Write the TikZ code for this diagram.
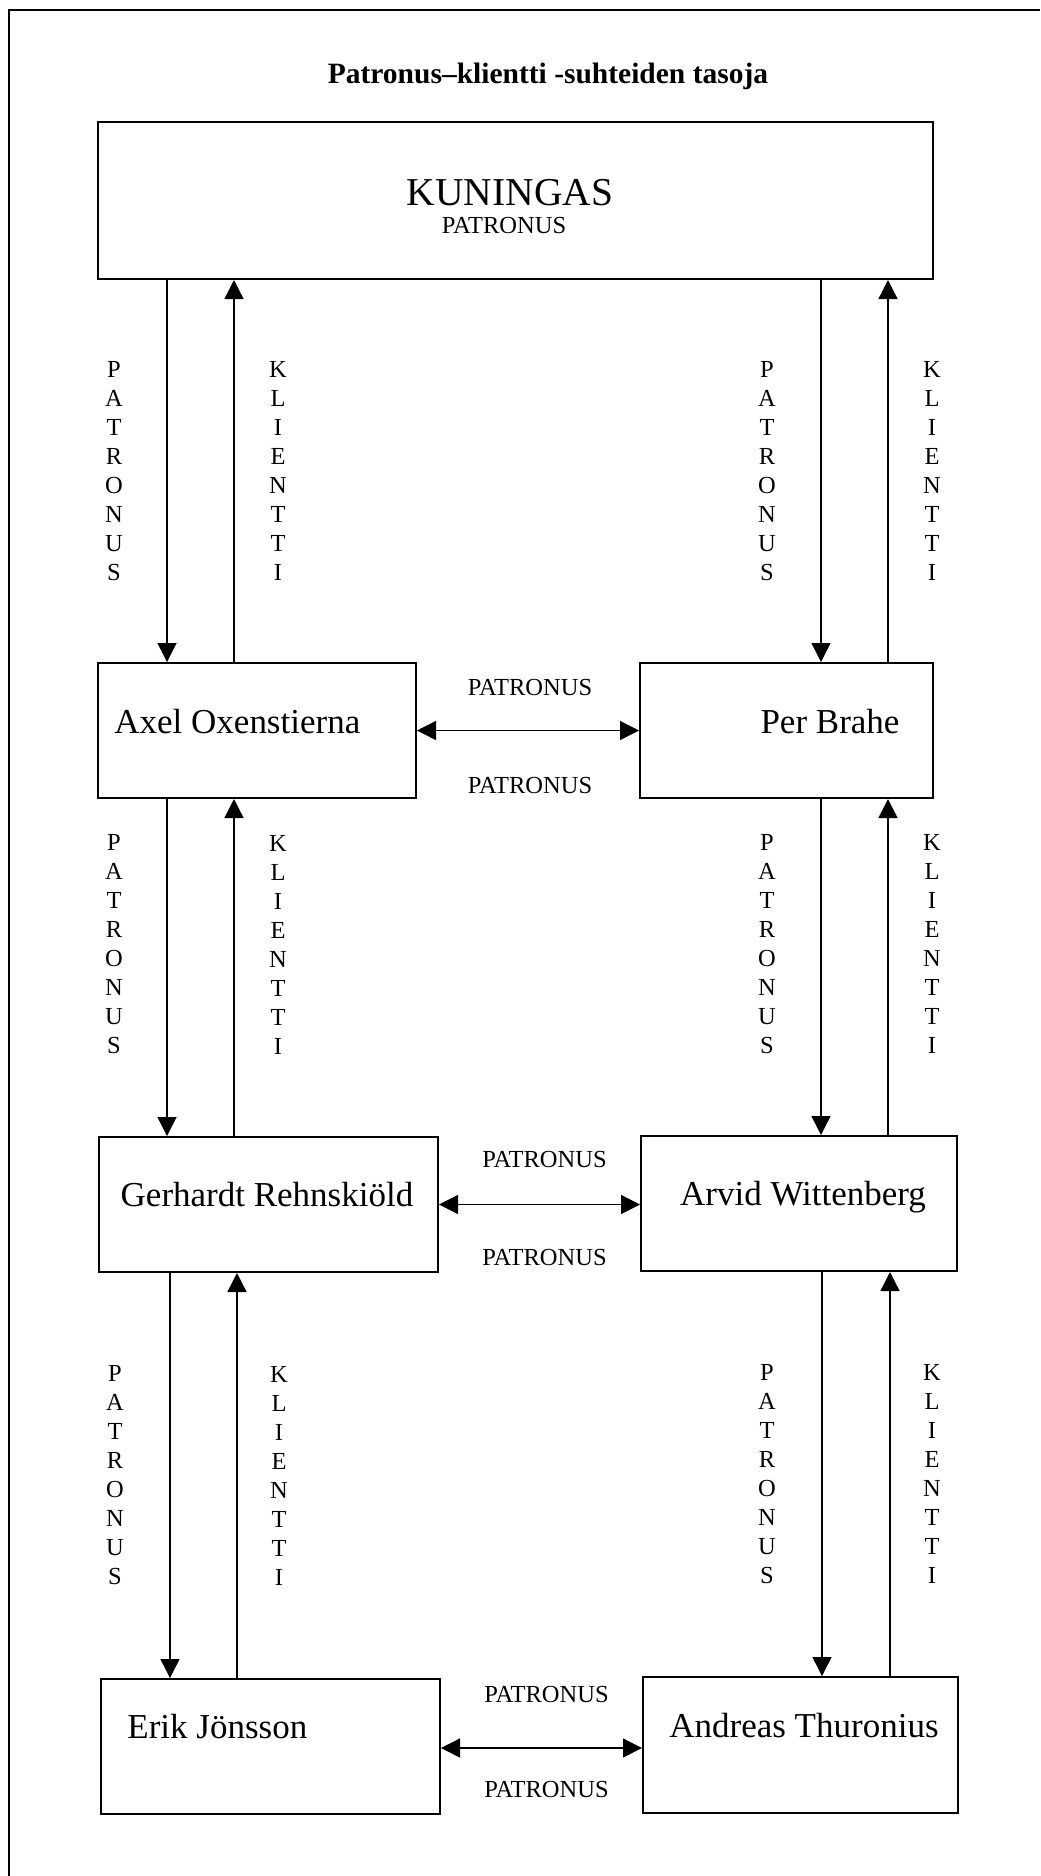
\documentclass[tikz,border=0pt]{standalone}
\usepackage{fontspec}
\setmainfont{Liberation Serif}
\usetikzlibrary{arrows.meta}
\tikzstyle{kingbox}=[rectangle,minimum width=417.5pt,minimum height=78.5pt,
inner sep=0pt,draw=black,line width=1pt]
\tikzstyle{personbox}=[rectangle,minimum height=67.5pt,
inner sep=0pt,draw=black,line width=1pt]
\tikzstyle{persontxt}=[inner sep=0pt,font=\fontsize{17.5}{21}\selectfont]
\tikzstyle{vlabel}=[align=center,inner sep=0pt,font=\fontsize{12.25}{14.5}\selectfont]
\tikzstyle{hlabel}=[inner sep=0pt,font=\fontsize{12.25}{14.5}\selectfont]
\tikzstyle{arrow}=[line width=0.7pt,-{Triangle[width=9.5pt,length=9.5pt]}]
\tikzstyle{dblarrow}=[line width=0.7pt,{Triangle[width=9.5pt,length=9.5pt]}-{Triangle[width=9.5pt,length=9.5pt]}]

\begin{document}
\begin{tikzpicture}[x=0.5pt,y=-0.5pt]
        \useasboundingbox (0,0) rectangle (1040,1876);
        \draw [line width=1pt] (9,1876) -- (9,10) -- (1040,10);

        \node (title) [anchor=base,font=\fontsize{14.75}{17}\selectfont\bfseries] at (548,83) {Patronus–klientti -suhteiden tasoja};

        \node (king) [kingbox] at (515.5,200.5) {};
        \node (kingname) [anchor=base,inner sep=0pt,font=\fontsize{19.75}{23}\selectfont] at (510,205) {KUNINGAS};
        \node (kingrole) [hlabel,anchor=base] at (504,233) {PATRONUS};

        \node (axel) [personbox,minimum width=159pt] at (257,730.5) {};
        \node (per) [personbox,minimum width=146.5pt] at (786.5,730.5) {};
        \node (gerh) [personbox,minimum width=169.5pt] at (268.5,1204.5) {};
        \node (arvid) [personbox,minimum width=158pt] at (799,1203.5) {};
        \node (erik) [personbox,minimum width=169.5pt] at (270.5,1746.5) {};
        \node (andreas) [personbox,minimum width=157.5pt,minimum height=68pt] at (800.5,1745) {};

        \node (axeltxt) [persontxt,anchor=base west] at (114,733) {Axel Oxenstierna};
        \node (pertxt) [persontxt,anchor=base] at (830,733) {Per Brahe};
        \node (gerhtxt) [persontxt,anchor=base] at (267,1206) {Gerhardt Rehnskiöld};
        \node (arvidtxt) [persontxt,anchor=base] at (803,1205) {Arvid Wittenberg};
        \node (eriktxt) [persontxt,anchor=base west] at (127,1738) {Erik Jönsson};
        \node (andreastxt) [persontxt,anchor=base] at (804,1737) {Andreas Thuronius};

        % columns of the vertical arrows
        \coordinate (lp) at (167,0);
        \coordinate (lk) at (234,0);
        \coordinate (rp) at (821,0);
        \coordinate (rk) at (888,0);
        \coordinate (lp3) at (170,0);
        \coordinate (lk3) at (237,0);
        \coordinate (rp3) at (822,0);
        \coordinate (rk3) at (890,0);

        \draw [arrow] (king.south -| lp) -- node[vlabel,xshift=-26.5pt] (p1l) {P\\A\\T\\R\\O\\N\\U\\S} (axel.north -| lp);
        \draw [arrow] (axel.north -| lk) -- node[vlabel,xshift=22pt] (k1l) {K\\L\\I\\E\\N\\T\\T\\I} (king.south -| lk);
        \draw [arrow] (king.south -| rp) -- node[vlabel,xshift=-27pt] (p1r) {P\\A\\T\\R\\O\\N\\U\\S} (per.north -| rp);
        \draw [arrow] (per.north -| rk) -- node[vlabel,xshift=22pt] (k1r) {K\\L\\I\\E\\N\\T\\T\\I} (king.south -| rk);

        \draw [arrow] (axel.south -| lp) -- node[vlabel,xshift=-26.5pt,yshift=11.5pt] (p2l) {P\\A\\T\\R\\O\\N\\U\\S} (gerh.north -| lp);
        \draw [arrow] (gerh.north -| lk) -- node[vlabel,xshift=22pt,yshift=11.5pt] (k2l) {K\\L\\I\\E\\N\\T\\T\\I} (axel.south -| lk);
        \draw [arrow] (per.south -| rp) -- node[vlabel,xshift=-27pt,yshift=11.5pt] (p2r) {P\\A\\T\\R\\O\\N\\U\\S} (arvid.north -| rp);
        \draw [arrow] (arvid.north -| rk) -- node[vlabel,xshift=22pt,yshift=11.5pt] (k2r) {K\\L\\I\\E\\N\\T\\T\\I} (per.south -| rk);

        \draw [arrow] (gerh.south -| lp3) -- node[vlabel,xshift=-27.5pt] (p3l) {P\\A\\T\\R\\O\\N\\U\\S} (erik.north -| lp3);
        \draw [arrow] (erik.north -| lk3) -- node[vlabel,xshift=21pt] (k3l) {K\\L\\I\\E\\N\\T\\T\\I} (gerh.south -| lk3);
        \draw [arrow] (arvid.south -| rp3) -- node[vlabel,xshift=-27.5pt] (p3r) {P\\A\\T\\R\\O\\N\\U\\S} (andreas.north -| rp3);
        \draw [arrow] (andreas.north -| rk3) -- node[vlabel,xshift=21pt] (k3r) {K\\L\\I\\E\\N\\T\\T\\I} (arvid.south -| rk3);

        \draw [dblarrow] (axel.east) -- node[hlabel,xshift=1pt,yshift=21.75pt] (h1a) {PATRONUS}
                node[hlabel,xshift=1pt,yshift=-27.25pt] (h1b) {PATRONUS} (per.west);
        \draw [dblarrow] (gerh.east) -- node[hlabel,xshift=2.5pt,yshift=22.5pt] (h2a) {PATRONUS}
                node[hlabel,xshift=2.5pt,yshift=-26.5pt] (h2b) {PATRONUS} (gerh.east -| arvid.west);
        \draw [dblarrow] ([yshift=-0.75pt]erik.east) -- node[hlabel,xshift=2.5pt,yshift=27pt] (h3a) {PATRONUS}
                node[hlabel,xshift=2.5pt,yshift=-20.75pt] (h3b) {PATRONUS} ([yshift=-0.75pt]erik.east -| andreas.west);

\end{tikzpicture}
\end{document}
